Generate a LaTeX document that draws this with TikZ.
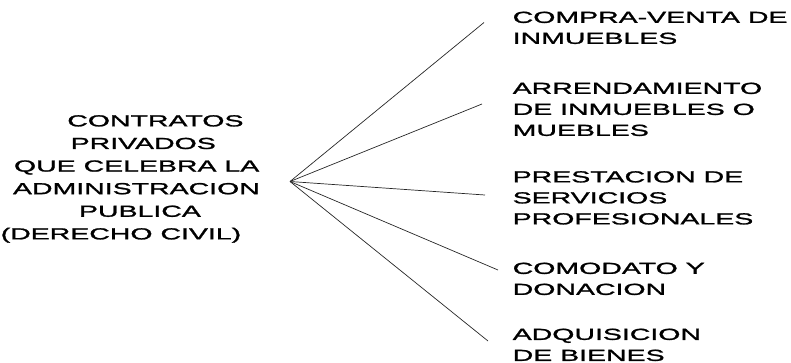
\documentclass[tikz,border=0pt]{standalone}
\usepackage{fontspec}
\setmainfont{Liberation Sans}[FakeStretch=1.78,FakeBold=1.5]
\begin{document}
\begin{tikzpicture}[x=1pt,y=-1pt,
  item/.style={anchor=north west, inner sep=0pt, align=left,
    font=\fontsize{16}{21}\selectfont},
  fan/.style={line width=0.7pt, black!85}]
\useasboundingbox (0,0) rectangle (791,362);

% heading on the left
\node[item, font=\fontsize{16}{22.6}\selectfont] (main) at (0.5,115) {%
  \hspace*{66.6pt}CONTRATOS\\
  \hspace*{70pt}PRIVADOS\\
  \hspace*{13.3pt}QUE CELEBRA LA\\
  \hspace*{12.3pt}ADMINISTRACION\\
  \hspace*{78.3pt}PUBLICA\\
  (DERECHO CIVIL)};

% kinds of contract on the right
\node[item] (c1) at (512.5,11.5)  {COMPRA-VENTA DE\\INMUEBLES};
\node[item] (c2) at (512.5,82.5)  {ARRENDAMIENTO\\DE INMUEBLES O\\MUEBLES};
\node[item] (c3) at (512.5,171)   {PRESTACION DE\\SERVICIOS\\PROFESIONALES};
\node[item] (c4) at (512.5,262.5) {COMODATO Y\\DONACION};
\node[item] (c5) at (512.5,328.5) {ADQUISICION\\DE BIENES};

% fan of lines
\coordinate (hub) at (290,181.5);
\coordinate (e1) at (484,22.5);
\coordinate (e2) at (482,104);
\coordinate (e3) at (485,195);
\coordinate (e4) at (498,270);
\coordinate (e5) at (488,341);
\foreach \e in {e1,e2,e3,e4,e5}
  \draw[fan] (hub) -- (\e);
\end{tikzpicture}
\end{document}
